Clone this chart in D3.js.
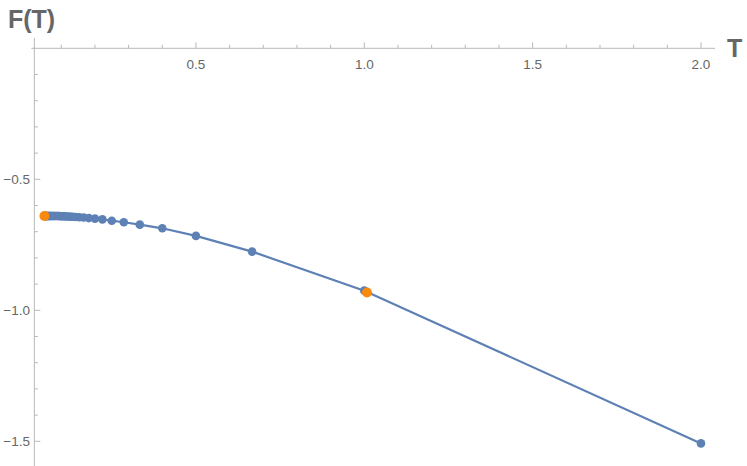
<!DOCTYPE html>
<html><head><meta charset="utf-8">
<script src="https://cdn.jsdelivr.net/npm/d3@7"></script>
<style>body{margin:0;background:#fff}svg{display:block}</style>
</head><body>
<svg id="c" width="747" height="466"></svg>
<script>
const T = [2, 1, 0.6667, 0.5, 0.4, 0.3333, 0.2857, 0.25, 0.2222, 0.2, 0.1818, 0.1667, 0.1538, 0.1429, 0.1333, 0.125, 0.1176, 0.1111, 0.1053, 0.1, 0.0952, 0.0909, 0.087, 0.0833, 0.08, 0.0769, 0.0741, 0.0714, 0.069, 0.0667, 0.0645, 0.0625, 0.0606, 0.0588, 0.0571, 0.0556, 0.0541, 0.0526, 0.0513, 0.05];
const F = [-1.508, -0.925, -0.776, -0.716, -0.687, -0.673, -0.664, -0.658, -0.653, -0.650, -0.648, -0.646, -0.645, -0.644, -0.643, -0.6425, -0.642, -0.6415, -0.641, -0.6408, -0.6405, -0.6403, -0.6401, -0.64, -0.64, -0.64, -0.64, -0.64, -0.64, -0.64, -0.64, -0.64, -0.64, -0.64, -0.64, -0.64, -0.64, -0.64, -0.64, -0.64];
const refT = [0.05, 1.008];
const refF = [-0.640, -0.932];
const xTicks = [0.5, 1.0, 1.5, 2.0];
const yTicks = [-0.5, -1.0, -1.5];

const svg = d3.select("#c");
const x = d3.scaleLinear().domain([0, 2]).range([27.6, 701.0]);
const y = d3.scaleLinear().domain([0, -1.5]).range([48.3, 441.3]);
const axisCol = "#b8b8b8", textCol = "#666";
const font = "Liberation Sans, Arial, sans-serif";
const x0 = x(0.02), y0 = y(0);

// axes lines
svg.append("line").attr("x1", x0 - 3).attr("x2", 715).attr("y1", y0).attr("y2", y0).attr("stroke", axisCol).attr("stroke-width", 1);
svg.append("line").attr("x1", x0).attr("x2", x0).attr("y1", 38).attr("y2", 466).attr("stroke", axisCol).attr("stroke-width", 1);

// x ticks
const xMinor = d3.range(0.1, 2.05, 0.1).map(v => +v.toFixed(2));
svg.append("g").selectAll("line").data(xMinor).join("line")
  .attr("x1", d => x(d)).attr("x2", d => x(d))
  .attr("y1", y0).attr("y2", d => Math.abs(d * 2 - Math.round(d * 2)) < 1e-6 ? y0 - 6 : y0 - 3.5)
  .attr("stroke", axisCol);
svg.append("g").selectAll("text").data(xTicks).join("text")
  .attr("x", d => x(d)).attr("y", 69).attr("text-anchor", "middle")
  .attr("font-family", font).attr("font-size", 13.5).attr("fill", textCol)
  .text(d => d.toFixed(1));

// y ticks
const yMinor = d3.range(-0.1, -1.65, -0.1).map(v => +v.toFixed(2));
svg.append("g").selectAll("line").data(yMinor).join("line")
  .attr("x1", x0).attr("x2", d => Math.abs(d * 2 - Math.round(d * 2)) < 1e-6 ? x0 + 6 : x0 + 3.5)
  .attr("y1", d => y(d)).attr("y2", d => y(d))
  .attr("stroke", axisCol);
svg.append("g").selectAll("text").data(yTicks).join("text")
  .attr("x", 30).attr("y", d => y(d) + 4.8).attr("text-anchor", "end")
  .attr("font-family", font).attr("font-size", 13.5).attr("fill", textCol)
  .text(d => "\u2212" + Math.abs(d).toFixed(1));

// axis labels
svg.append("text").attr("x", 8).attr("y", 28).attr("font-family", font)
  .attr("font-weight", "bold").attr("font-size", 25).attr("fill", textCol).text("F(T)");
svg.append("text").attr("x", 727).attr("y", 57).attr("font-family", font)
  .attr("font-weight", "bold").attr("font-size", 25).attr("fill", textCol).text("T");

// line
const pts = T.map((t, i) => [t, F[i]]).sort((a, b) => a[0] - b[0]);
svg.append("path").datum(pts)
  .attr("d", d3.line().x(d => x(d[0])).y(d => y(d[1])))
  .attr("fill", "none").attr("stroke", "#5E81B5").attr("stroke-width", 2.2);
svg.append("g").selectAll("circle").data(pts).join("circle")
  .attr("cx", d => x(d[0])).attr("cy", d => y(d[1])).attr("r", 4.3).attr("fill", "#5E81B5");

// reference points
svg.append("g").selectAll("circle").data(refT.map((t, i) => [t, refF[i]])).join("circle")
  .attr("cx", d => x(d[0])).attr("cy", d => y(d[1])).attr("r", 5).attr("fill", "#F98A0E");
</script>
</body></html>
